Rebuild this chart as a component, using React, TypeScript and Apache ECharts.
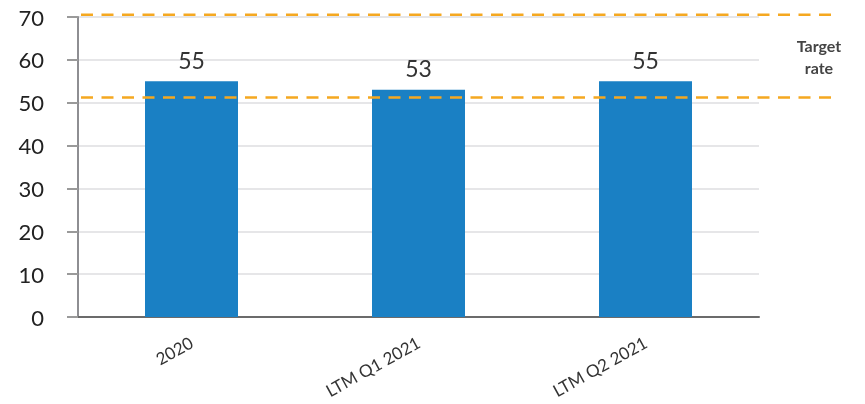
import React, { useEffect, useRef } from "react";
import * as echarts from "echarts";

const categories = ["2020", "LTM Q1 2021", "LTM Q2 2021"];
const rates = [55, 53, 55];
const targetLow = [51.2, 51.2];
const targetHigh = [70.5, 70.5];
const yTicks = { min: 0, max: 70, interval: 10 };

const FONT = "Lato, 'Open Sans', sans-serif";

export default function App() {
  const ref = useRef<HTMLDivElement>(null);

  useEffect(() => {
    if (!ref.current) return;
    const chart = echarts.init(ref.current, undefined, { renderer: "svg" });
    const gridTop = 17;
    const gridBottom = 87;
    const dashed = { color: "#f5a820", width: 2.5, type: [12, 8.5] };
    chart.setOption({
      animation: false,
      textStyle: { fontFamily: FONT },
      grid: [
        { left: 78, right: 106, top: gridTop, bottom: gridBottom, outerBoundsMode: "none" },
        { left: 81, right: 33, top: gridTop, bottom: gridBottom, outerBoundsMode: "none" },
      ],
      xAxis: [
        {
          type: "category",
          gridIndex: 0,
          data: categories,
          axisLine: { lineStyle: { color: "#6b6b6b", width: 2 } },
          axisTick: { alignWithLabel: true, length: 11, lineStyle: { color: "#9a9a9a", width: 2 } },
          axisLabel: { rotate: 29, fontSize: 17, color: "#333", margin: 24, fontFamily: FONT },
        },
        { type: "value", gridIndex: 1, min: 0, max: 1, show: false },
      ],
      yAxis: [
        {
          type: "value",
          gridIndex: 0,
          min: yTicks.min,
          max: yTicks.max,
          interval: yTicks.interval,
          axisLine: { show: true, lineStyle: { color: "#8e8e92", width: 2 } },
          axisTick: { show: true, length: 11, lineStyle: { color: "#9a9a9a", width: 2 } },
          axisLabel: { fontSize: 22, color: "#222", margin: 34, fontFamily: FONT },
          splitLine: { lineStyle: { color: "#e6e6e8", width: 2 } },
        },
        { type: "value", gridIndex: 1, min: yTicks.min, max: yTicks.max, show: false },
      ],
      series: [
        {
          type: "bar",
          xAxisIndex: 0,
          yAxisIndex: 0,
          data: rates,
          barWidth: 93,
          itemStyle: { color: "#1a80c4" },
          label: {
            show: true,
            position: "top",
            distance: 10,
            fontSize: 23,
            color: "#333",
            fontFamily: FONT,
          },
        },
        {
          type: "line",
          xAxisIndex: 1,
          yAxisIndex: 1,
          data: targetLow.map((v, i) => [i, v]),
          symbol: "none",
          clip: false,
          z: 5,
          lineStyle: dashed,
        },
        {
          type: "line",
          xAxisIndex: 1,
          yAxisIndex: 1,
          data: targetHigh.map((v, i) => [i, v]),
          symbol: "none",
          clip: false,
          z: 5,
          lineStyle: dashed,
        },
      ],
      graphic: [
        {
          type: "text",
          x: 819,
          y: 34,
          style: {
            text: "Target\nrate",
            align: "center",
            verticalAlign: "top",
            fontSize: 16,
            fontWeight: "bold",
            lineHeight: 22,
            fill: "#444",
            fontFamily: FONT,
          },
        },
      ],
    });
    return () => chart.dispose();
  }, []);

  return (
    <div
      ref={ref}
      style={{ position: "fixed", left: 0, top: 0, width: 865, height: 404 }}
    />
  );
}
